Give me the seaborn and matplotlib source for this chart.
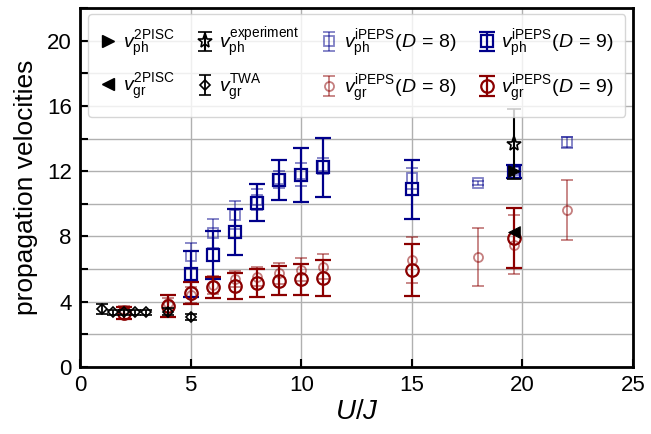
import matplotlib
matplotlib.use("Agg")
import matplotlib.pyplot as plt
import seaborn as sns
import numpy as np
from matplotlib.ticker import MultipleLocator

# ---- data ----
U_ph9 = [5, 6, 7, 8, 9, 10, 11, 15, 19.6]
v_ph9 = [5.7, 6.87, 8.28, 10.08, 11.47, 11.74, 12.23, 10.9, 11.98]
e_ph9 = [1.42, 1.45, 1.4, 1.15, 1.23, 1.65, 1.8, 1.8, 0.38]

U_ph8 = [5, 6, 7, 8, 9, 10, 11, 15, 18, 19.6, 22]
v_ph8 = [6.8, 8.2, 9.33, 10.25, 11.5, 11.82, 12.3, 11.57, 11.27, 12.08, 13.76]
e_ph8 = [0.77, 0.88, 0.85, 0.65, 0.52, 0.7, 0.5, 0.65, 0.12, 0.2, 0.33]

U_gr9 = [2, 4, 5, 6, 7, 8, 9, 10, 11, 15, 19.6]
v_gr9 = [3.33, 3.74, 4.52, 4.89, 4.99, 5.17, 5.3, 5.38, 5.46, 5.95, 7.9]
e_gr9 = [0.37, 0.68, 0.66, 0.65, 0.8, 0.85, 0.86, 0.95, 1.1, 1.6, 1.85]

U_gr8 = [2, 4, 5, 6, 7, 8, 9, 10, 11, 15, 18, 19.6, 22]
v_gr8 = [3.5, 3.9, 4.4, 5.0, 5.38, 5.54, 5.75, 5.95, 6.15, 6.56, 6.75, 7.5, 9.6]
e_gr8 = [0.25, 0.35, 0.5, 0.55, 0.5, 0.6, 0.65, 0.7, 0.75, 1.4, 1.77, 1.8, 1.83]

U_twa = [1, 1.5, 2, 2.5, 3, 4, 5]
v_twa = [3.56, 3.35, 3.35, 3.35, 3.35, 3.4, 3.05]
e_twa = [0.3, 0.15, 0.15, 0.15, 0.15, 0.2, 0.2]

U_exp = [19.6]
v_exp = [13.65]
e_exp = [2.13]

U_2pisc = [19.6]
v_ph_2pisc = [12.0]
v_gr_2pisc = [8.3]

x_ticks = [0, 5, 10, 15, 20, 25]
y_ticks = [0, 4, 8, 12, 16, 20]

# ---- style ----
sns.set_style("white")
plt.rcParams['font.family'] = ['Liberation Sans', 'DejaVu Sans']
plt.rcParams['mathtext.fontset'] = 'custom'
plt.rcParams['mathtext.rm'] = 'Liberation Sans'
plt.rcParams['mathtext.it'] = 'Liberation Sans:italic'
plt.rcParams['mathtext.bf'] = 'Liberation Sans:bold'
plt.rcParams['text.color'] = 'black'
plt.rcParams['axes.labelcolor'] = 'black'
plt.rcParams['xtick.color'] = 'black'
plt.rcParams['ytick.color'] = 'black'

fig = plt.figure(figsize=(6.51, 4.34), dpi=100)
ax = fig.add_axes([80/651, 1-367/434, 553/651, 359/434])

blue = '#00008b'
red = '#8b0000'

h_ph8 = ax.errorbar(U_ph8, v_ph8, yerr=e_ph8, fmt='s', ms=6.5, mfc='none', mec=blue,
                    ecolor=blue, mew=1.3, elinewidth=1.3, capsize=4, capthick=1.3,
                    alpha=0.5, zorder=3, label=r'$v^{\mathrm{iPEPS}}_{\mathrm{ph}}(D\,=\,8)$')
h_gr8 = ax.errorbar(U_gr8, v_gr8, yerr=e_gr8, fmt='o', ms=6.5, mfc='none', mec=red,
                    ecolor=red, mew=1.3, elinewidth=1.3, capsize=4, capthick=1.3,
                    alpha=0.5, zorder=3, label=r'$v^{\mathrm{iPEPS}}_{\mathrm{gr}}(D\,=\,8)$')
h_ph9 = ax.errorbar(U_ph9, v_ph9, yerr=e_ph9, fmt='s', ms=9, mfc='none', mec=blue,
                    ecolor=blue, mew=1.6, elinewidth=1.6, capsize=5.5, capthick=1.6,
                    zorder=4, label=r'$v^{\mathrm{iPEPS}}_{\mathrm{ph}}(D\,=\,9)$')
h_gr9 = ax.errorbar(U_gr9, v_gr9, yerr=e_gr9, fmt='o', ms=9, mfc='none', mec=red,
                    ecolor=red, mew=1.6, elinewidth=1.6, capsize=5.5, capthick=1.6,
                    zorder=4, label=r'$v^{\mathrm{iPEPS}}_{\mathrm{gr}}(D\,=\,9)$')
h_twa = ax.errorbar(U_twa, v_twa, yerr=e_twa, fmt='D', ms=5, mfc='none', mec='black',
                    ecolor='black', mew=1.2, elinewidth=1.3, capsize=4, capthick=1.3,
                    zorder=5, label=r'$v^{\mathrm{TWA}}_{\mathrm{gr}}$')
h_exp = ax.errorbar(U_exp, v_exp, yerr=e_exp, fmt='*', ms=11, mfc='none', mec='black',
                    ecolor='black', mew=1.2, elinewidth=1.5, capsize=5, capthick=1.5,
                    zorder=5, label=r'$v^{\mathrm{experiment}}_{\mathrm{ph}}$')

sns.scatterplot(x=U_2pisc, y=v_ph_2pisc, marker='>', s=70, color='black',
                edgecolor='black', ax=ax, zorder=6, legend=False)
sns.scatterplot(x=U_2pisc, y=v_gr_2pisc, marker='<', s=70, color='black',
                edgecolor='black', ax=ax, zorder=6, legend=False)
h_ph2, = ax.plot([], [], '>', color='black', ms=9, ls='none',
                 label=r'$v^{\mathrm{2PISC}}_{\mathrm{ph}}$')
h_gr2, = ax.plot([], [], '<', color='black', ms=9, ls='none',
                 label=r'$v^{\mathrm{2PISC}}_{\mathrm{gr}}$')

ax.set_xlim(0, 25)
ax.set_ylim(0, 22)
ax.set_xticks(x_ticks)
ax.set_yticks(y_ticks)
ax.yaxis.set_minor_locator(MultipleLocator(2))
ax.grid(True, which='major', color='#b0b0b0', lw=1.0)
ax.grid(True, which='minor', axis='y', color='#b0b0b0', lw=1.0)
ax.set_axisbelow(True)

for s in ax.spines.values():
    s.set_linewidth(2.0)
    s.set_color('black')
ax.tick_params(which='both', direction='in', length=6, width=1.5,
               labelsize=16, left=True, bottom=True, top=False, right=False, pad=6)

ax.set_xlabel(r'$U/J$', fontsize=20, labelpad=2)
ax.set_ylabel('propagation velocities', fontsize=19, labelpad=6)

handles = [h_ph2, h_gr2, h_exp, h_twa, h_ph8, h_gr8, h_ph9, h_gr9]
labels = [h.get_label() for h in handles]
leg = ax.legend(handles, labels, ncol=4, loc='upper left',
                bbox_to_anchor=(8/553, 1-6/359), borderaxespad=0,
                fontsize=14, framealpha=0.8, edgecolor='#cccccc',
                handlelength=0.9, handletextpad=0.3, columnspacing=1.1,
                labelspacing=0.65, borderpad=0.6)

fig.savefig('out.png', dpi=100)
